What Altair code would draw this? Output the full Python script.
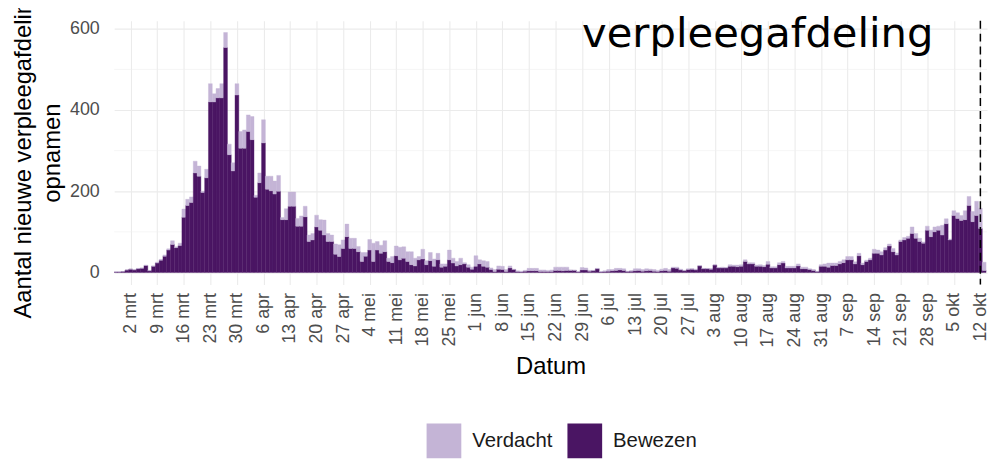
import altair as alt
import pandas as pd

# Daily new admissions to the nursing ward (verpleegafdeling), 27 feb - 13 okt 2020
bewezen_feb = [1, 1, 2]
verdacht_feb = [0, 0, 0]
bewezen_mrt = [6, 8, 6, 9, 10, 17, 4, 15, 23, 30, 40, 55, 69, 61, 66, 136, 165, 172, 245, 237,
               197, 233, 420, 420, 430, 430, 554, 290, 250, 437, 306]
verdacht_mrt = [0, 0, 1, 1, 1, 1, 1, 1, 2, 2, 3, 3, 9, 2, 6, 20, 15, 14, 29, 25,
                3, 21, 45, 20, 23, 35, 37, 26, 20, 28, 41]
bewezen_apr = [306, 347, 327, 185, 221, 319, 205, 201, 193, 200, 130, 130, 163, 163, 114,
               114, 137, 76, 80, 112, 104, 92, 76, 76, 45, 39, 59, 88, 59, 59]
verdacht_apr = [45, 41, 57, 5, 24, 57, 32, 36, 32, 39, 5, 27, 35, 35, 19,
                25, 26, 16, 16, 29, 26, 37, 20, 16, 25, 29, 21, 31, 25, 25]
bewezen_mei = [51, 27, 40, 55, 27, 55, 47, 51, 27, 24, 41, 31, 35, 27, 19, 16, 31, 33, 19, 29,
               15, 31, 13, 15, 31, 23, 16, 19, 21, 13, 8]
verdacht_mei = [13, 22, 9, 26, 45, 21, 20, 27, 8, 15, 24, 31, 28, 24, 32, 19, 8, 24, 10, 20,
                18, 16, 8, 6, 24, 12, 11, 16, 3, 6, 5]
bewezen_jun = [15, 21, 15, 13, 7, 2, 8, 7, 2, 11, 7, 2, 1, 3, 4, 4, 4, 2, 2, 2,
               2, 5, 5, 4, 5, 5, 5, 1, 6, 6]
verdacht_jun = [26, 10, 14, 14, 4, 5, 8, 8, 5, 5, 1, 2, 2, 2, 6, 6, 6, 4, 4, 3,
                4, 8, 8, 9, 8, 1, 0, 1, 6, 5]
bewezen_jul = [3, 4, 9, 1, 2, 3, 4, 5, 6, 5, 2, 3, 4, 5, 3, 4, 5, 3, 2, 4,
               5, 3, 11, 10, 6, 4, 7, 8, 6, 16, 9]
verdacht_jul = [2, 1, 1, 1, 2, 4, 3, 5, 4, 4, 1, 1, 5, 4, 4, 5, 3, 4, 3, 4,
                5, 4, 2, 3, 2, 1, 2, 1, 2, 1, 1]
bewezen_aug = [9, 8, 18, 11, 11, 11, 15, 15, 14, 15, 27, 21, 21, 15, 15, 14, 20, 11, 11, 19,
               23, 11, 11, 11, 16, 9, 9, 7, 5, 2, 15]
verdacht_aug = [1, 1, 1, 1, 2, 1, 4, 3, 4, 4, 4, 3, 3, 3, 4, 3, 7, 3, 3, 5,
                4, 4, 4, 4, 5, 4, 4, 2, 2, 1, 4]
bewezen_sep = [15, 13, 17, 17, 21, 24, 31, 31, 21, 41, 19, 27, 31, 47, 47, 43, 55, 65, 51, 43,
               76, 80, 84, 96, 84, 76, 72, 104, 88, 100]
verdacht_sep = [6, 10, 6, 6, 6, 7, 8, 8, 5, 6, 4, 3, 4, 10, 8, 8, 6, 5, 8, 5,
                4, 6, 5, 16, 12, 8, 3, 10, 16, 12]
bewezen_okt = [104, 92, 120, 80, 140, 133, 128, 130, 165, 125, 140, 108, 5]
verdacht_okt = [10, 24, 12, 2, 12, 14, 12, 22, 22, 25, 35, 50, 20]

maand_namen = ["jan", "feb", "mrt", "apr", "mei", "jun", "jul", "aug", "sep", "okt", "nov", "dec"]
categorieen = ["Verdacht", "Bewezen"]
kleuren = ["#C4B4D6", "#4A1563"]
peildatum = "2020-10-12"
y_ticks = [0, 200, 400, 600]
y_minor = [100, 300, 500]

bewezen = (bewezen_feb + bewezen_mrt + bewezen_apr + bewezen_mei + bewezen_jun
           + bewezen_jul + bewezen_aug + bewezen_sep + bewezen_okt)
verdacht = (verdacht_feb + verdacht_mrt + verdacht_apr + verdacht_mei + verdacht_jun
            + verdacht_jul + verdacht_aug + verdacht_sep + verdacht_okt)
dates = pd.date_range("2020-02-27", periods=len(bewezen), freq="D")

rows = []
for d, b, v in zip(dates, bewezen, verdacht):
    s = (d - pd.Timedelta(hours=12)).strftime("%Y-%m-%dT%H:%M:%SZ")
    e = (d + pd.Timedelta(hours=12)).strftime("%Y-%m-%dT%H:%M:%SZ")
    rows.append({"start": s, "end": e, "type": "Bewezen", "lo": 0, "hi": b})
    rows.append({"start": s, "end": e, "type": "Verdacht", "lo": b, "hi": b + v})
df = pd.DataFrame(rows)

tick_dates = pd.date_range("2020-03-02", "2020-10-12", freq="7D")
tick_values = [alt.DateTime(year=t.year, month=t.month, date=t.day, utc=True) for t in tick_dates]

x_scale = alt.Scale(type="utc", nice=False, domain=[
    alt.DateTime(year=2020, month=2, date=26, hours=15, minutes=7, utc=True),
    alt.DateTime(year=2020, month=10, date=13, hours=18, minutes=0, utc=True)])
y_scale = alt.Scale(domain=[-30, 620], nice=False, zero=False)

label_expr = ("utcdate(datum.value) + ' ' + " + str(maand_namen) + "[utcmonth(datum.value)]")

FONT = "Liberation Sans"

x_axis = alt.Axis(values=tick_values, labelExpr=label_expr, labelAngle=270, labelAlign="right",
                  labelBaseline="middle", labelFontSize=18, labelFont=FONT, labelColor="#4D4D4D",
                  labelPadding=8, labelOverlap=False, ticks=False, domain=False, grid=True,
                  gridColor="#EBEBEB", gridWidth=1.1, title="Datum", titleFontSize=24,
                  titleFont=FONT, titleFontWeight="normal", titleColor="#000000",
                  titleX=440, titleY=90, titleAlign="center", titleBaseline="alphabetic")
y_axis = alt.Axis(values=y_ticks, grid=True, gridColor="#EBEBEB", gridWidth=1.1, domain=False,
                  ticks=False, labelPadding=15, labelFontSize=18, labelFont=FONT,
                  labelColor="#4D4D4D", title=["Aantal nieuwe verpleegafdeling", "opnamen"],
                  titleFontSize=24, titleFont=FONT, titleFontWeight="normal",
                  titleColor="#000000", titleAngle=270, titleX=-84, titleY=133,
                  titleAlign="center", titleBaseline="alphabetic", titleLineHeight=29)

color_scale = alt.Scale(domain=categorieen, range=kleuren)
legend = alt.Legend(orient="none", legendX=315, legendY=406, direction="horizontal", title=None,
                    symbolType="square", symbolSize=1225, symbolStrokeWidth=0,
                    labelFontSize=20.5, labelFont=FONT, labelColor="#1A1A1A", labelOffset=11,
                    columnPadding=15, padding=0)

minor = alt.Chart(pd.DataFrame({"lo": y_minor})).mark_rule(color="#EFEFEF", strokeWidth=0.6).encode(
    y=alt.Y("lo:Q", scale=y_scale, axis=y_axis))

bars = alt.Chart(df).mark_bar(strokeWidth=0.4, clip=True).encode(
    x=alt.X("start:T", scale=x_scale, axis=x_axis),
    x2="end:T",
    y=alt.Y("lo:Q", scale=y_scale, axis=y_axis),
    y2="hi:Q",
    color=alt.Color("type:N", scale=color_scale, legend=legend),
    stroke=alt.Stroke("type:N", scale=color_scale, legend=None),
)

dash = alt.Chart(pd.DataFrame({"start": [peildatum + "T00:00:00Z"]})).mark_rule(
    color="black", strokeWidth=1.5, strokeDash=[8, 5]).encode(
    x=alt.X("start:T", scale=x_scale, axis=x_axis))

titel = alt.Chart(pd.DataFrame({"t": ["verpleegafdeling"]})).mark_text(
    align="right", baseline="alphabetic", fontSize=42, font="DejaVu Sans", color="#000000").encode(
    text="t:N", x=alt.value(826), y=alt.value(26))

chart = alt.layer(minor, bars, dash, titel).properties(
    width=880, height=266, autosize="none",
    padding={"left": 107, "top": 11, "right": 2, "bottom": 174},
).configure(background="white", view=alt.ViewConfig(stroke=None))

chart.save("out.html", embed_options={"renderer": "svg", "actions": False})
